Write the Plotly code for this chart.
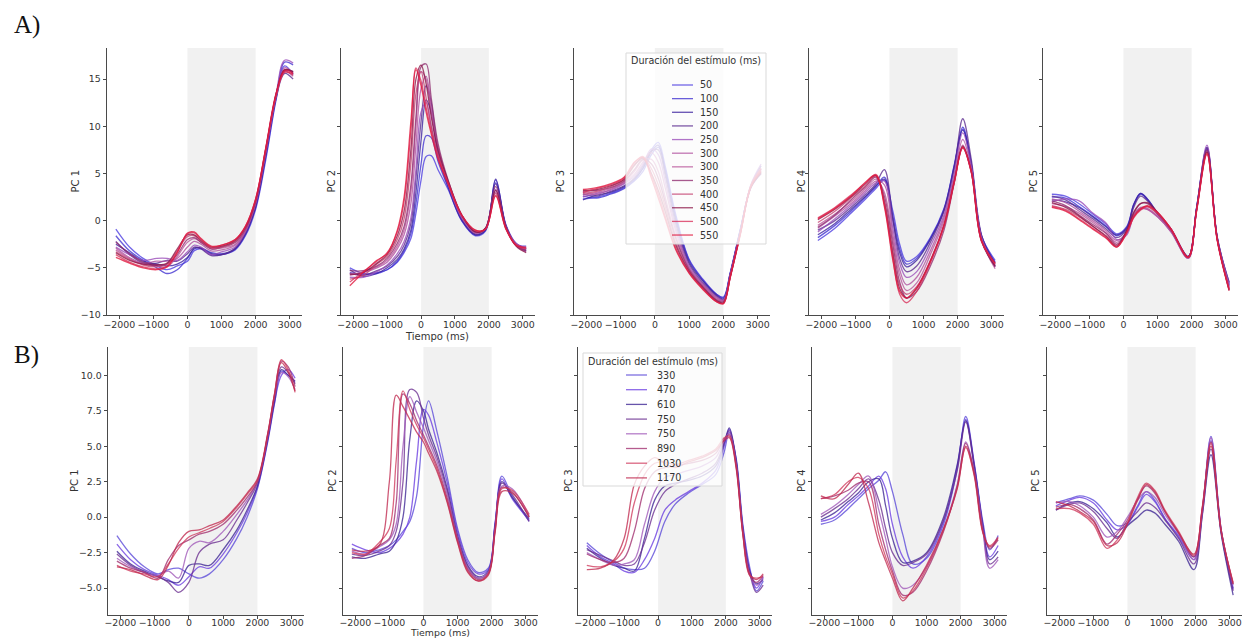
import plotly.graph_objects as go

W, H = 1245, 638

# ---------------- categories / colours ----------------
DUR_A = ["50", "100", "150", "200", "250", "300", "300", "350", "400", "450", "500", "550"]
COL_A = ["#4a3be0", "#3f2fd0", "#3a1f9e", "#5b2a8e", "#9a4cb8", "#b0509e",
         "#b8559a", "#8e2a6e", "#c44070", "#8c1446", "#d8305a", "#e0163c"]
DUR_B = ["330", "470", "610", "750", "750", "890", "1030", "1170"]
COL_B = ["#5a48d8", "#6a3ce0", "#3c2494", "#6a2e90", "#a058b8", "#a02e6e", "#d03a5c", "#c02a50"]
LEGEND_TITLE = "Duración del estímulo (ms)"

XTICKS = [-2000, -1000, 0, 1000, 2000, 3000]
XTICK_TEXT = ["\u22122000", "\u22121000", "0", "1000", "2000", "3000"]
YTICKS_A = [-10, -5, 0, 5, 10, 15]
YTICK_TEXT_A = ["\u221210", "\u22125", "0", "5", "10", "15"]
YTICKS_B = [-5, -2.5, 0, 2.5, 5, 7.5, 10]
YTICK_TEXT_B = ["\u22125.0", "\u22122.5", "0.0", "2.5", "5.0", "7.5", "10.0"]

# ---------------- Row A data ----------------
T_A1 = [-2100, -1700, -1300, -900, -600, -300, 0, 200, 400, 700, 1000, 1400, 1700, 2000, 2300, 2600, 2850, 3100]
PC1_A = [
    [-0.9, -2.8, -4.0, -4.8, -5.2, -4.8, -4.3, -3.2, -3.0, -3.6, -3.6, -3.1, -1.6, 1.2, 6.5, 12.8, 16.4, 15.5],
    [-1.6, -3.2, -4.2, -5.0, -5.6, -5.2, -4.0, -3.0, -2.9, -3.4, -3.5, -3.0, -1.5, 1.4, 6.8, 13.0, 16.8, 16.5],
    [-2.5, -3.4, -4.3, -4.6, -4.8, -4.6, -3.9, -2.9, -2.9, -3.5, -3.6, -3.0, -1.4, 1.5, 7.0, 13.2, 15.9, 15.8],
    [-2.2, -3.6, -4.5, -4.5, -4.2, -4.3, -3.5, -2.8, -3.0, -3.7, -3.6, -2.9, -1.3, 1.6, 7.2, 13.0, 15.6, 15.0],
    [-2.8, -3.6, -4.2, -4.0, -4.0, -4.2, -3.3, -2.6, -2.8, -3.6, -3.3, -2.8, -1.2, 1.8, 7.3, 13.4, 17.0, 16.7],
    [-2.9, -3.9, -4.5, -4.3, -4.3, -4.0, -2.8, -2.2, -2.5, -3.2, -3.1, -2.6, -1.1, 1.9, 7.4, 13.3, 16.2, 15.6],
    [-3.1, -4.0, -4.6, -4.8, -4.9, -3.8, -2.3, -1.9, -2.3, -3.0, -2.9, -2.5, -1.0, 2.0, 7.4, 13.2, 15.8, 15.3],
    [-2.3, -3.5, -4.4, -4.7, -4.6, -3.6, -2.0, -1.8, -2.3, -3.0, -2.8, -2.3, -0.9, 2.0, 7.5, 13.4, 16.0, 15.7],
    [-3.3, -4.1, -4.7, -4.9, -4.6, -3.2, -1.7, -1.6, -2.2, -2.9, -2.8, -2.2, -0.8, 2.1, 7.6, 13.2, 15.8, 15.4],
    [-3.4, -4.2, -4.6, -4.7, -4.5, -3.0, -1.5, -1.5, -2.1, -2.8, -2.7, -2.1, -0.7, 2.2, 7.7, 13.4, 16.0, 15.8],
    [-3.6, -4.4, -4.9, -5.1, -4.8, -3.3, -1.4, -1.3, -2.0, -2.8, -2.6, -2.0, -0.6, 2.3, 7.7, 13.3, 15.7, 15.5],
    [-3.9, -4.5, -5.0, -5.2, -4.9, -3.4, -1.3, -1.2, -1.9, -2.7, -2.6, -2.0, -0.6, 2.3, 7.8, 13.5, 15.9, 15.6],
]

T_A2 = [-2100, -1700, -1300, -1000, -700, -500, -300, -150, 0, 150, 300, 500, 800, 1200, 1600, 1900, 2200, 2500, 2800, 3100]
PC2_A = [
    [-5.0, -5.6, -5.6, -5.2, -4.4, -3.4, -1.9, 0.8, 4.3, 6.8, 6.9, 5.4, 3.3, 0.0, -1.6, -1.1, 4.3, -0.4, -2.4, -3.0],
    [-5.5, -5.7, -5.5, -5.2, -4.3, -3.2, -1.4, 1.8, 6.0, 9.0, 8.8, 6.3, 3.5, 0.0, -1.5, -1.0, 4.0, -0.5, -2.5, -2.7],
    [-5.2, -5.9, -5.6, -5.0, -4.1, -3.0, -1.0, 3.0, 8.5, 12.8, 11.5, 7.0, 3.6, 0.1, -1.5, -1.0, 4.4, -0.6, -2.6, -3.2],
    [-5.6, -5.8, -5.3, -4.8, -3.8, -2.6, -0.3, 4.5, 10.5, 14.3, 12.5, 7.4, 3.8, 0.2, -1.4, -0.9, 3.9, -0.5, -2.5, -3.1],
    [-6.0, -6.0, -5.4, -4.7, -3.5, -2.2, 0.3, 5.5, 11.5, 12.5, 10.0, 6.8, 3.8, 0.3, -1.3, -0.8, 3.3, -0.6, -2.4, -2.9],
    [-5.6, -5.5, -5.0, -4.4, -3.0, -1.5, 1.8, 8.0, 14.0, 15.3, 12.0, 7.8, 4.0, 0.4, -1.3, -0.8, 3.2, -0.7, -2.6, -3.3],
    [-5.8, -5.4, -4.9, -4.2, -2.7, -1.0, 3.0, 10.0, 15.8, 15.0, 11.5, 7.6, 4.1, 0.5, -1.2, -0.9, 3.0, -0.8, -2.5, -3.0],
    [-5.3, -5.3, -4.8, -4.0, -2.4, -0.6, 3.8, 11.0, 16.3, 16.6, 13.0, 8.2, 4.3, 0.6, -1.2, -0.8, 3.6, -0.6, -2.6, -3.2],
    [-6.2, -5.8, -4.6, -3.8, -2.0, 0.2, 6.0, 13.5, 15.8, 13.0, 10.0, 7.0, 4.0, 0.5, -1.1, -0.9, 2.9, -0.8, -2.5, -2.9],
    [-5.7, -5.5, -4.5, -3.6, -1.6, 1.0, 7.5, 15.0, 16.5, 14.5, 11.0, 7.5, 4.2, 0.6, -1.2, -0.8, 3.2, -0.7, -2.7, -3.4],
    [-6.5, -5.4, -4.3, -3.4, -1.2, 2.0, 9.5, 16.2, 14.8, 12.0, 9.5, 6.8, 4.0, 0.6, -1.0, -0.9, 2.7, -0.8, -2.6, -3.0],
    [-6.9, -5.5, -4.2, -3.5, -1.0, 2.5, 10.5, 16.0, 14.3, 11.5, 9.2, 6.5, 3.9, 0.6, -1.0, -0.9, 2.6, -0.9, -2.6, -2.8],
]

T_A3 = [-2100, -1700, -1300, -900, -600, -350, -100, 100, 300, 600, 1000, 1400, 1800, 2000, 2200, 2500, 2800, 3100]
PC3_A = [
    [2.3, 2.5, 2.9, 3.5, 4.3, 5.6, 7.5, 8.3, 5.8, 0.8, -4.1, -6.2, -7.8, -8.1, -5.5, -0.8, 3.6, 5.5],
    [2.6, 2.4, 2.8, 3.4, 4.2, 5.2, 7.0, 7.8, 5.5, 0.5, -4.2, -6.3, -7.8, -8.2, -5.6, -0.9, 3.5, 5.0],
    [2.2, 2.7, 3.0, 3.6, 4.4, 5.5, 7.3, 8.0, 5.2, 0.2, -4.4, -6.4, -7.9, -8.3, -5.6, -0.9, 3.7, 5.8],
    [2.8, 2.6, 3.1, 3.7, 4.5, 5.8, 7.4, 7.5, 4.8, -0.2, -4.6, -6.6, -8.0, -8.4, -5.7, -1.0, 3.6, 5.2],
    [2.5, 2.9, 3.2, 3.9, 4.7, 6.0, 7.6, 7.0, 4.2, -0.6, -4.8, -6.7, -8.1, -8.4, -5.7, -1.0, 3.8, 6.0],
    [3.0, 2.8, 3.3, 4.0, 4.9, 6.2, 7.2, 6.2, 3.5, -1.0, -5.0, -6.8, -8.2, -8.5, -5.8, -1.1, 3.6, 5.4],
    [2.7, 3.0, 3.4, 4.1, 5.2, 6.4, 6.5, 5.2, 2.5, -1.5, -5.1, -6.9, -8.3, -8.5, -5.8, -1.1, 3.7, 5.6],
    [3.1, 3.2, 3.5, 4.2, 5.4, 6.5, 6.0, 4.5, 2.0, -1.8, -5.2, -7.0, -8.4, -8.6, -5.9, -1.2, 3.5, 5.0],
    [2.9, 3.1, 3.6, 4.3, 5.8, 6.7, 5.5, 3.8, 1.5, -2.2, -5.3, -7.1, -8.5, -8.7, -5.9, -1.2, 3.6, 5.3],
    [3.2, 3.3, 3.7, 4.4, 5.9, 6.6, 5.0, 3.2, 1.0, -2.5, -5.4, -7.1, -8.5, -8.7, -6.0, -1.3, 3.5, 5.1],
    [3.0, 3.4, 3.8, 4.5, 6.1, 6.8, 4.8, 2.8, 0.5, -2.8, -5.5, -7.2, -8.6, -8.8, -6.0, -1.3, 3.7, 5.5],
    [3.3, 3.5, 3.9, 4.6, 6.2, 6.7, 4.5, 2.4, 0.2, -3.0, -5.6, -7.3, -8.6, -8.8, -6.0, -1.4, 3.6, 5.2],
]

T_A4 = [-2100, -1600, -1100, -700, -400, -150, 100, 300, 500, 800, 1200, 1600, 1900, 2150, 2400, 2700, 3100]
PC4_A = [
    [-2.1, -0.8, 0.9, 2.3, 3.4, 4.3, 1.0, -2.5, -4.3, -3.8, -1.8, 1.3, 5.8, 9.7, 6.0, -1.6, -4.2],
    [-1.8, -0.5, 1.1, 2.5, 3.6, 4.6, 0.5, -3.0, -4.6, -4.0, -1.9, 1.2, 5.9, 9.9, 6.1, -1.6, -4.4],
    [-1.5, -0.3, 1.3, 2.6, 3.7, 4.4, 0.0, -3.4, -4.9, -4.2, -2.0, 1.1, 5.7, 9.6, 5.9, -1.7, -4.5],
    [-1.0, 0.0, 1.5, 2.8, 3.9, 5.4, 0.2, -4.0, -5.4, -4.8, -2.3, 1.0, 5.5, 10.8, 6.5, -1.5, -4.8],
    [-1.2, 0.2, 1.7, 3.0, 4.0, 4.2, -0.8, -4.5, -6.0, -5.4, -2.7, 0.6, 5.0, 9.3, 5.8, -1.8, -4.9],
    [-0.8, 0.5, 1.9, 3.2, 4.2, 3.8, -1.5, -5.2, -6.8, -6.0, -3.2, 0.3, 4.6, 8.6, 5.5, -1.9, -4.7],
    [-0.5, 0.7, 2.1, 3.4, 4.4, 3.0, -2.0, -5.8, -7.4, -6.6, -3.6, 0.0, 4.4, 8.0, 5.3, -2.0, -5.1],
    [-0.7, 0.6, 2.3, 3.6, 4.6, 2.6, -2.6, -6.5, -8.2, -7.5, -4.8, -1.0, 4.0, 7.8, 5.2, -2.1, -4.9],
    [-0.2, 1.0, 2.5, 3.7, 4.7, 2.2, -3.2, -6.8, -7.8, -7.0, -4.2, -0.4, 4.2, 7.7, 5.3, -2.1, -4.6],
    [0.1, 1.2, 2.6, 3.9, 4.8, 1.9, -3.6, -7.2, -8.2, -7.2, -4.3, -0.5, 4.1, 7.9, 5.2, -2.2, -4.8],
    [0.3, 1.4, 2.8, 4.0, 4.9, 1.7, -4.0, -7.8, -8.7, -7.5, -4.5, -0.6, 4.0, 7.7, 5.1, -2.2, -4.6],
    [0.2, 1.3, 2.7, 4.1, 4.8, 1.5, -4.2, -7.5, -8.2, -7.1, -4.3, -0.5, 4.1, 7.8, 5.2, -2.1, -4.5],
]

T_A5 = [-2100, -1700, -1300, -900, -500, -200, 100, 300, 500, 700, 1000, 1400, 1900, 2150, 2450, 2750, 3100]
PC5_A = [
    [2.8, 2.6, 1.8, 0.7, -0.4, -1.4, -0.6, 1.7, 2.9, 2.3, 0.8, -0.9, -3.8, 1.5, 7.6, -1.8, -6.8],
    [2.5, 2.4, 1.5, 0.5, -0.6, -1.6, -0.8, 1.6, 2.8, 2.2, 0.7, -1.0, -3.9, 1.4, 7.5, -1.9, -6.9],
    [2.2, 2.0, 1.4, 0.4, -0.7, -1.5, -0.7, 1.7, 2.9, 2.3, 0.8, -1.0, -3.8, 1.5, 7.8, -1.7, -6.6],
    [2.6, 2.2, 1.2, 0.2, -0.9, -1.8, -0.9, 1.4, 2.6, 2.1, 0.7, -1.1, -3.9, 1.4, 7.7, -1.8, -6.5],
    [2.0, 2.3, 2.1, 0.8, -0.3, -2.0, -1.5, 0.5, 1.3, 1.2, 0.4, -1.2, -4.0, 1.3, 8.0, -1.8, -6.7],
    [2.3, 1.9, 1.0, 0.0, -1.1, -2.1, -1.2, 0.6, 1.4, 1.3, 0.5, -1.1, -3.9, 1.3, 7.4, -1.9, -7.0],
    [1.8, 1.5, 0.8, -0.2, -1.3, -2.3, -1.3, 0.4, 1.2, 1.2, 0.4, -1.2, -4.0, 1.2, 7.3, -2.0, -7.1],
    [2.1, 1.6, 0.6, -0.4, -1.4, -2.5, -1.0, 0.9, 1.8, 1.8, 0.8, -1.0, -3.9, 1.3, 7.5, -1.9, -7.3],
    [1.6, 1.2, 0.4, -0.6, -1.6, -2.6, -1.2, 0.5, 1.3, 1.5, 0.7, -1.0, -3.9, 1.2, 7.2, -2.0, -7.2],
    [1.9, 1.4, 0.5, -0.6, -1.7, -2.7, -1.0, 0.8, 1.8, 1.9, 0.9, -0.9, -3.8, 1.3, 7.3, -1.9, -7.4],
    [1.5, 1.1, 0.2, -0.8, -1.8, -2.8, -1.3, 0.3, 1.1, 1.5, 0.8, -0.9, -3.9, 1.1, 7.0, -2.0, -7.3],
    [1.4, 1.0, 0.1, -0.9, -1.9, -2.8, -1.2, 0.4, 1.2, 1.6, 0.9, -0.9, -3.9, 1.2, 7.1, -2.1, -7.4],
]

# ---------------- Row B data ----------------
T_B1 = [-2100, -1700, -1300, -900, -600, -300, 0, 300, 600, 1000, 1400, 1700, 2000, 2300, 2500, 2700, 2900, 3100]
PC1_B = [
    [-1.3, -2.6, -3.5, -4.0, -3.7, -3.6, -4.0, -4.3, -4.0, -3.0, -1.5, 0.0, 2.0, 5.3, 8.0, 10.3, 10.0, 9.5],
    [-1.9, -3.0, -3.7, -4.1, -4.4, -4.8, -4.2, -3.5, -3.6, -2.6, -1.1, 0.3, 2.1, 5.4, 8.1, 10.0, 10.4, 9.8],
    [-2.4, -3.3, -3.8, -4.2, -4.5, -4.6, -3.4, -3.3, -3.4, -2.3, -0.9, 0.5, 2.2, 5.5, 8.2, 10.4, 10.0, 9.6],
    [-2.6, -3.4, -3.9, -4.2, -4.6, -5.3, -4.6, -2.5, -1.9, -1.6, -0.2, 1.0, 2.4, 5.6, 8.4, 10.6, 10.2, 9.4],
    [-2.9, -3.5, -3.9, -4.1, -3.8, -4.3, -2.2, -1.7, -1.8, -1.0, 0.2, 1.2, 2.5, 5.7, 8.5, 10.2, 9.9, 9.0],
    [-3.1, -3.6, -3.9, -4.3, -3.0, -2.0, -1.6, -1.2, -1.0, -0.5, 0.5, 1.4, 2.5, 5.8, 8.6, 11.0, 10.6, 9.2],
    [-3.4, -3.8, -4.0, -4.2, -3.3, -2.2, -1.4, -1.1, -0.8, -0.3, 0.7, 1.6, 2.6, 5.8, 8.7, 11.1, 10.4, 8.8],
    [-3.5, -3.7, -4.1, -4.4, -3.4, -1.8, -1.0, -0.9, -0.6, -0.2, 0.8, 1.7, 2.7, 5.9, 8.7, 10.9, 10.2, 8.9],
]

T_B2 = [-2100, -1700, -1300, -1000, -800, -600, -400, -200, 0, 150, 400, 700, 1000, 1300, 1600, 1900, 2100, 2300, 2600, 3100]
PC2_B = [
    [-2.2, -2.5, -2.3, -2.0, -1.6, -1.0, -0.3, 1.5, 6.5, 8.2, 6.0, 2.8, -0.8, -3.0, -3.9, -3.6, -0.5, 2.9, 1.5, -0.3],
    [-1.9, -2.3, -2.5, -2.2, -1.8, -1.2, 0.0, 4.0, 7.6, 7.2, 5.2, 2.4, -1.0, -3.2, -4.0, -3.7, -0.4, 2.7, 1.3, -0.2],
    [-2.8, -2.9, -2.6, -2.4, -1.7, 0.0, 5.5, 8.2, 7.5, 6.2, 4.5, 2.0, -1.3, -3.4, -4.2, -3.8, -0.6, 2.5, 1.4, -0.1],
    [-2.6, -2.7, -2.4, -2.0, -1.0, 2.5, 9.0, 8.8, 7.0, 5.8, 4.2, 1.8, -1.4, -3.5, -4.3, -3.9, -0.7, 2.4, 1.6, -0.3],
    [-2.4, -2.6, -2.1, -1.6, -0.5, 5.0, 8.5, 7.4, 6.3, 5.4, 3.9, 1.6, -1.5, -3.6, -4.3, -3.9, -0.8, 2.2, 2.0, 0.1],
    [-2.9, -2.7, -2.0, -1.5, 1.0, 8.7, 8.0, 6.8, 5.8, 5.0, 3.6, 1.3, -1.6, -3.7, -4.4, -4.0, -0.9, 2.1, 1.8, 0.0],
    [-2.5, -2.6, -1.8, -0.8, 4.0, 8.9, 7.6, 6.5, 5.6, 4.8, 3.4, 1.1, -1.7, -3.8, -4.5, -4.0, -1.0, 2.0, 1.9, 0.2],
    [-2.3, -2.4, -2.0, 2.5, 8.6, 7.8, 6.9, 6.0, 5.3, 4.5, 3.2, 1.0, -1.8, -3.9, -4.5, -4.1, -1.1, 1.8, 1.7, 0.0],
]

T_B3 = [-2100, -1700, -1300, -1000, -700, -400, -100, 200, 500, 900, 1300, 1700, 1950, 2100, 2300, 2500, 2700, 2900, 3100]
PC3_B = [
    [-1.8, -2.6, -3.2, -3.6, -3.7, -3.6, -2.4, -0.3, 0.9, 1.7, 2.3, 3.0, 4.6, 6.0, 4.2, -0.5, -3.5, -5.2, -4.5],
    [-2.0, -2.8, -3.3, -3.8, -3.9, -3.0, -1.5, 0.5, 1.2, 1.8, 2.4, 3.3, 5.0, 6.2, 4.0, -0.7, -3.7, -5.0, -4.2],
    [-2.2, -2.9, -3.4, -3.6, -3.8, -1.5, 1.2, 2.2, 2.4, 2.6, 2.9, 3.6, 5.2, 6.3, 4.1, -0.8, -3.8, -4.7, -4.4],
    [-2.3, -2.7, -3.1, -3.4, -3.3, -1.8, 0.5, 1.8, 2.3, 2.7, 3.1, 3.8, 5.3, 6.1, 3.9, -0.9, -3.9, -5.3, -4.8],
    [-2.5, -3.0, -3.4, -3.3, -3.0, -0.5, 1.8, 2.8, 3.0, 3.3, 3.6, 4.2, 5.4, 5.9, 3.8, -1.0, -4.0, -4.8, -4.3],
    [-2.6, -3.0, -3.2, -2.9, -1.0, 2.0, 3.2, 3.5, 3.6, 3.8, 4.0, 4.5, 5.5, 5.8, 3.7, -1.1, -4.1, -4.6, -4.1],
    [-3.4, -3.5, -3.1, -2.2, 1.0, 3.0, 3.8, 3.9, 3.7, 4.0, 4.3, 4.8, 5.6, 5.7, 3.6, -1.2, -4.1, -4.3, -4.2],
    [-3.7, -3.6, -3.0, -1.5, 2.3, 3.6, 4.2, 3.8, 3.5, 3.9, 4.2, 4.7, 5.4, 5.6, 3.5, -1.2, -4.0, -4.4, -4.0],
]

T_B4 = [-2100, -1700, -1300, -1000, -700, -400, -200, 0, 300, 600, 1000, 1500, 1900, 2150, 2400, 2650, 2850, 3100]
PC4_B = [
    [-0.5, -0.2, 0.6, 1.3, 2.0, 2.6, 3.2, 1.8, -1.2, -3.3, -2.9, -0.5, 3.4, 7.1, 3.8, -0.3, -2.3, -1.3],
    [-0.3, 0.0, 0.9, 1.5, 2.2, 2.9, 2.0, -0.5, -2.8, -3.6, -2.8, -0.3, 3.6, 6.9, 3.7, -0.5, -2.8, -2.0],
    [-0.2, 0.3, 1.1, 1.7, 2.5, 2.7, 0.8, -1.5, -3.2, -3.1, -2.5, 0.0, 3.7, 6.8, 3.6, -0.6, -3.0, -2.4],
    [0.0, 0.6, 1.3, 2.0, 2.7, 1.2, -0.8, -2.5, -3.4, -3.2, -2.6, -0.2, 3.3, 6.7, 3.5, -0.7, -3.3, -2.8],
    [0.2, 0.8, 1.6, 2.3, 2.9, 0.5, -1.5, -3.5, -5.0, -4.8, -3.5, -0.8, 2.3, 5.3, 3.2, -0.9, -3.6, -3.0],
    [1.3, 1.5, 1.9, 2.4, 2.5, -0.5, -2.3, -3.8, -5.5, -5.3, -3.8, -1.0, 2.2, 5.2, 3.1, -1.0, -2.2, -1.6],
    [1.3, 1.6, 2.5, 2.8, 2.0, -1.2, -2.8, -4.0, -5.7, -5.2, -3.6, -0.9, 2.1, 4.9, 2.9, -1.1, -2.0, -1.4],
    [1.5, 1.3, 2.3, 3.1, 1.0, -1.8, -3.1, -4.3, -5.9, -5.0, -3.4, -0.8, 2.0, 5.0, 3.0, -1.0, -2.1, -1.5],
]

T_B5 = [-2100, -1700, -1400, -1000, -600, -300, 0, 300, 550, 800, 1100, 1500, 1950, 2200, 2450, 2750, 3100]
PC5_B = [
    [1.0, 1.3, 1.5, 1.2, 0.2, -0.6, -0.4, 0.8, 1.8, 1.2, -0.1, -1.3, -2.8, 0.6, 5.7, -0.9, -5.0],
    [0.8, 1.2, 1.4, 1.0, -0.2, -0.9, -0.5, 0.7, 1.6, 1.1, -0.1, -1.4, -3.0, 0.5, 5.4, -1.0, -5.1],
    [0.5, 1.0, 1.1, 0.6, -0.4, -1.4, -0.6, 0.0, 0.5, 0.3, -0.5, -1.7, -3.7, 0.2, 4.4, -1.2, -5.5],
    [0.5, 0.9, 1.0, 0.4, -0.8, -1.5, -0.4, 0.4, 1.0, 0.7, -0.2, -1.5, -3.3, 0.3, 4.8, -1.1, -5.2],
    [1.0, 1.1, 0.8, 0.0, -1.4, -1.0, 0.0, 1.2, 1.8, 1.4, 0.2, -1.2, -3.0, 0.5, 5.6, -0.9, -4.8],
    [0.7, 0.9, 0.6, -0.2, -1.9, -1.2, -0.2, 1.3, 2.2, 1.7, 0.4, -1.1, -2.8, 0.7, 5.3, -0.9, -4.7],
    [0.6, 0.6, 0.3, -0.5, -2.2, -1.6, -0.4, 1.4, 2.4, 1.9, 0.5, -1.0, -2.7, 0.8, 5.2, -1.0, -4.6],
    [1.1, 0.8, 0.4, -0.3, -2.0, -1.8, -0.5, 1.2, 2.3, 1.8, 0.4, -1.1, -2.6, 0.7, 5.0, -1.0, -4.7],
]

# ---------------- layout geometry (pixels) ----------------
ROW_A_X = [(107, 302), (341, 535), (574, 770), (809, 1004), (1043, 1238)]
ROW_B_X = [(108, 304), (343, 538), (578, 772), (812, 1007), (1047, 1242)]
ROW_A_Y = (48, 315)
ROW_B_Y = (347, 615)
YLAB_A = [75, 331, 560, 801, 1033]
YLAB_B = [74, 332, 568, 801, 1035]
XRANGE = [-2360, 3360]
YRANGE_A = [-10, 18.3]
YRANGE_B = [-6.9, 12.0]
LINE_ALPHA = 0.78

# legend boxes: (box x0, x1, y0, y1, title y, first entry y, step, swatch x0, x1, label x)
LEG_A = (626, 766, 53, 244, 60, 85, 13.64, 672, 693, 698)
LEG_B = (583, 722, 353, 486, 361, 375, 14.7, 626, 647, 655)


def hx(p):
    return p / W


def vy(p):
    return 1 - p / H


def rgba(hexcol, a):
    h = hexcol.lstrip("#")
    r, g, b = int(h[0:2], 16), int(h[2:4], 16), int(h[4:6], 16)
    return f"rgba({r},{g},{b},{a})"


panels = [
    ("A", 0, T_A1, PC1_A, "PC 1"), ("A", 1, T_A2, PC2_A, "PC 2"), ("A", 2, T_A3, PC3_A, "PC 3"),
    ("A", 3, T_A4, PC4_A, "PC 4"), ("A", 4, T_A5, PC5_A, "PC 5"),
    ("B", 0, T_B1, PC1_B, "PC 1"), ("B", 1, T_B2, PC2_B, "PC 2"), ("B", 2, T_B3, PC3_B, "PC 3"),
    ("B", 3, T_B4, PC4_B, "PC 4"), ("B", 4, T_B5, PC5_B, "PC 5"),
]

fig = go.Figure()
layout = {}
shapes = []
annotations = []
AX_COLOR = "#4a4a4a"
TXT_COLOR = "#333333"
TICK_FONT = dict(family="DejaVu Sans", size=9.4, color=TXT_COLOR)

for k, (row, col, T, SERIES, ylabel) in enumerate(panels):
    n = k + 1
    xa = "x" if n == 1 else f"x{n}"
    ya = "y" if n == 1 else f"y{n}"
    xkey = "xaxis" if n == 1 else f"xaxis{n}"
    ykey = "yaxis" if n == 1 else f"yaxis{n}"
    if row == "A":
        x0, x1 = ROW_A_X[col]
        ytop, ybot = ROW_A_Y
        durs, cols = DUR_A, COL_A
        yr, yt, ytt = YRANGE_A, YTICKS_A, YTICK_TEXT_A
        ylx = YLAB_A[col]
        standoff = -3
    else:
        x0, x1 = ROW_B_X[col]
        ytop, ybot = ROW_B_Y
        durs, cols = DUR_B, COL_B
        yr, yt, ytt = YRANGE_B, YTICKS_B, YTICK_TEXT_B
        ylx = YLAB_B[col]
        standoff = -5

    for i, vals in enumerate(SERIES):
        if len(vals) != len(T):
            raise ValueError(f"panel {row}{col} line {i}: {len(vals)} vs {len(T)}")
        fig.add_trace(go.Scatter(
            x=T, y=vals, mode="lines",
            line=dict(color=rgba(cols[i], LINE_ALPHA), width=1.3, shape="spline", smoothing=1.0),
            name=durs[i], showlegend=False,
            xaxis=xa, yaxis=ya, hoverinfo="skip",
        ))

    common = dict(ticks="outside", ticklen=3.5, tickwidth=0.8, tickcolor=AX_COLOR,
                  showline=True, linecolor=AX_COLOR, linewidth=0.9, automargin=False,
                  showgrid=False, zeroline=False, tickfont=TICK_FONT, fixedrange=True)
    layout[xkey] = dict(domain=[hx(x0), hx(x1)], range=XRANGE, anchor=ya,
                        tickmode="array", tickvals=XTICKS, ticktext=XTICK_TEXT, tickangle=0,
                        ticklabelstandoff=standoff, **common)
    layout[ykey] = dict(domain=[vy(ybot), vy(ytop)], range=yr, anchor=xa,
                        tickmode="array", tickvals=yt, ticktext=ytt, showticklabels=(col == 0), **common)
    # stimulus window shading
    shapes.append(dict(type="rect", xref=xa, yref=f"{ya} domain", x0=0, x1=2000, y0=0, y1=1,
                       fillcolor="rgba(225,225,225,0.45)", line=dict(width=0), layer="below"))
    annotations.append(dict(text=ylabel, xref="paper", yref="paper", x=hx(ylx), y=vy((ytop + ybot) / 2),
                            showarrow=False, textangle=-90, xanchor="center", yanchor="middle",
                            font=dict(family="DejaVu Sans", size=10, color=TXT_COLOR)))


# ---------------- legends (matplotlib-style, placed inside PC 3 panels) ----------------
def add_legend(spec, durs, cols):
    bx0, bx1, by0, by1, ty, fy, step, sx0, sx1, lx = spec
    shapes.append(dict(type="rect", xref="paper", yref="paper", x0=hx(bx0), x1=hx(bx1), y0=vy(by1), y1=vy(by0),
                       fillcolor="rgba(255,255,255,0.8)", line=dict(color="#d9d9d9", width=1), layer="above"))
    annotations.append(dict(text=LEGEND_TITLE, xref="paper", yref="paper", x=hx((bx0 + bx1) / 2), y=vy(ty),
                            showarrow=False, xanchor="center", yanchor="middle",
                            font=dict(family="DejaVu Sans", size=9.6, color=TXT_COLOR)))
    for i, (d, c) in enumerate(zip(durs, cols)):
        yy = fy + i * step
        shapes.append(dict(type="line", xref="paper", yref="paper", x0=hx(sx0), x1=hx(sx1), y0=vy(yy), y1=vy(yy),
                           line=dict(color=rgba(c, LINE_ALPHA), width=1.3), layer="above"))
        annotations.append(dict(text=d, xref="paper", yref="paper", x=hx(lx), y=vy(yy),
                                showarrow=False, xanchor="left", yanchor="middle",
                                font=dict(family="DejaVu Sans", size=9.6, color=TXT_COLOR)))


add_legend(LEG_A, DUR_A, COL_A)
add_legend(LEG_B, DUR_B, COL_B)

annotations += [
    dict(text="Tiempo (ms)", xref="paper", yref="paper", x=hx(437), y=vy(336), showarrow=False,
         xanchor="center", yanchor="middle", font=dict(family="DejaVu Sans", size=10, color=TXT_COLOR)),
    dict(text="Tiempo (ms)", xref="paper", yref="paper", x=hx(440), y=0, showarrow=False,
         xanchor="center", yanchor="bottom", yshift=-2, font=dict(family="DejaVu Sans", size=9.4, color=TXT_COLOR)),
    dict(text="A)", xref="paper", yref="paper", x=hx(12), y=vy(25), showarrow=False,
         xanchor="left", yanchor="middle", font=dict(family="Liberation Serif", size=25, color="#111111")),
    dict(text="B)", xref="paper", yref="paper", x=hx(12), y=vy(355), showarrow=False,
         xanchor="left", yanchor="middle", font=dict(family="Liberation Serif", size=25, color="#111111")),
]

fig.update_layout(
    width=W, height=H, margin=dict(l=0, r=0, t=0, b=0, autoexpand=False),
    paper_bgcolor="white", plot_bgcolor="white", showlegend=False,
    shapes=shapes, annotations=annotations,
    **layout,
)

fig.write_html("out.html")
